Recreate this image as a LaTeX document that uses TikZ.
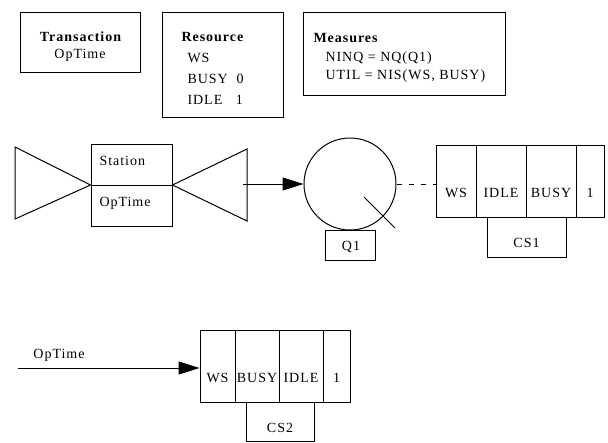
\documentclass[tikz,border=0pt]{standalone}
\usepackage{fontspec}
\setmainfont{Liberation Serif}[LetterSpace=7]
\usetikzlibrary{arrows.meta}
\begin{document}
\begin{tikzpicture}[x=1pt,y=-1pt,line width=1pt,
  every node/.style={font=\fontsize{14}{16}\selectfont},
  box/.style={draw,rectangle,inner sep=0pt},
  txt/.style={inner sep=0pt,anchor=base west},
  ctxt/.style={inner sep=0pt,anchor=base},
  bigarrow/.style={-{Triangle[length=21pt,width=13pt]}}]
\useasboundingbox (0,0) rectangle (608,442);
% top boxes
\node[box,minimum width=120pt,minimum height=60pt] (trans) at (80,42) {};
\node[ctxt] (transT) at (81,41) {\textbf{Transaction}};
\node[ctxt] (transO) at (80,58) {OpTime};
\node[box,minimum width=121pt,minimum height=105pt] (res) at (222.5,64.5) {};
\node[txt] (resT) at (181,41) {\textbf{Resource}};
\node[txt] (resA) at (187,62) {WS};
\node[txt] (resB) at (187,83) {BUSY\ \ 0};
\node[txt] (resC) at (187,104) {IDLE\ \ \ 1};
\node[box,minimum width=202pt,minimum height=83pt] (meas) at (404,53.5) {};
\node[txt] (measT) at (313,42) {\textbf{Measures}};
\node[txt] (measA) at (325,61) {NINQ = NQ(Q1)};
\node[txt] (measB) at (325,79) {UTIL = NIS(WS, BUSY)};
% station
\node[box,minimum width=81pt,minimum height=82pt] (st) at (131.5,185) {};
\draw (st.west) -- (st.east);
\node[txt] (stT) at (99,165) {Station};
\node[txt] (stO) at (99,206) {OpTime};
\coordinate (lt1) at (15,147);
\coordinate (lt2) at (15,219);
\coordinate (rt1) at (247,149);
\coordinate (rt2) at (247,221);
\draw (st.west) -- (lt1) -- (lt2) -- cycle;
\draw (st.east) -- (rt1) -- (rt2) -- cycle;
% queue
\node[draw,circle,minimum size=92pt,inner sep=0pt] (q) at (350,184) {};
\coordinate (arrS) at (243,184);
\draw[bigarrow] (arrS) -- (q.west);
\coordinate (tg1) at (364,197);
\coordinate (tg2) at (395,228);
\draw (tg1) -- (tg2);
\node[box,minimum width=50pt,minimum height=30pt] (q1) at (350,245) {};
\node[ctxt] (q1T) at (351,250) {Q1};
% CS1
\node[box,minimum width=40pt,minimum height=72pt] (c1a) at (456,181) {};
\node[box,minimum width=50pt,minimum height=72pt] (c1b) at (501,181) {};
\node[box,minimum width=50pt,minimum height=72pt] (c1c) at (551,181) {};
\node[box,minimum width=28pt,minimum height=72pt] (c1d) at (590,181) {};
\node[ctxt] (c1aT) at (456,197) {WS};
\node[ctxt] (c1bT) at (501,197) {IDLE};
\node[ctxt] (c1cT) at (551,197) {BUSY};
\node[ctxt] (c1dT) at (590,197) {1};
\node[box,minimum width=79pt,minimum height=40pt] (cs1) at (526.5,237) {};
\node[ctxt] (cs1T) at (526.5,247) {CS1};
\coordinate (dashE) at (436,184);
\draw[dash pattern=on 5pt off 7pt] (q.east) -- (dashE);
% CS2
\node[box,minimum width=35pt,minimum height=72pt] (c2a) at (217.5,366) {};
\node[box,minimum width=44pt,minimum height=72pt] (c2b) at (257,366) {};
\node[box,minimum width=44pt,minimum height=72pt] (c2c) at (301,366) {};
\node[box,minimum width=27pt,minimum height=72pt] (c2d) at (336.5,366) {};
\node[ctxt] (c2aT) at (217.5,382) {WS};
\node[ctxt] (c2bT) at (257,382) {BUSY};
\node[ctxt] (c2cT) at (301,382) {IDLE};
\node[ctxt] (c2dT) at (336.5,382) {1};
\node[box,minimum width=68pt,minimum height=39pt] (cs2) at (280,421.5) {};
\node[ctxt] (cs2T) at (280,432) {CS2};
\coordinate (inS) at (18,368);
\draw[bigarrow] (inS) -- (c2a.west |- inS);
\node[ctxt] (inT) at (59,358) {OpTime};
\end{tikzpicture}
\end{document}
